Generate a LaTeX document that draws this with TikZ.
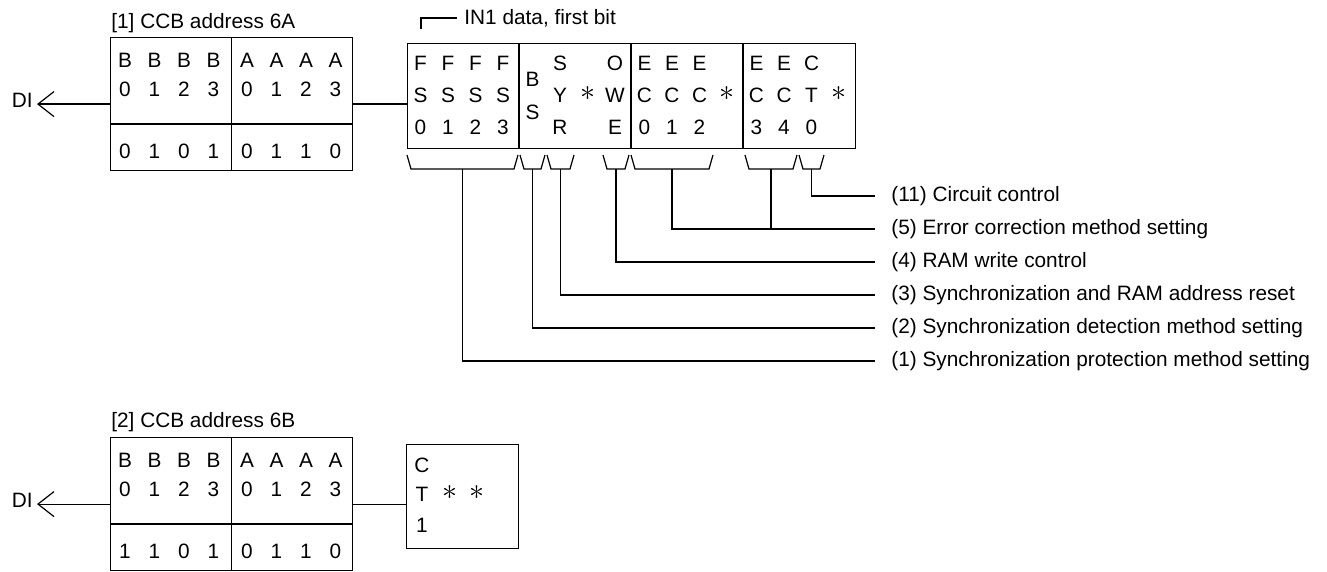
\documentclass[tikz,border=0pt]{standalone}
\usepackage{fontspec}
\setmainfont{Liberation Sans}
\usetikzlibrary{arrows.meta, positioning, calc}
\newcommand{\bitfont}{\fontsize{10.4}{12.5}\selectfont}
\newcommand{\bitast}{\raisebox{0.1em}{\scalebox{1.5}{$\ast$}}}
\tikzset{
  regbox/.style={rectangle, draw, line width=0.6pt, inner sep=0pt, anchor=north west},
  bit/.style={inner sep=0pt, text height=0.72em, text depth=0pt, font=\bitfont},
  lbl/.style={anchor=west, inner xsep=8pt, inner ysep=0pt, font=\bitfont},
  ttl/.style={anchor=base west, inner sep=0pt, font=\bitfont},
  wire/.style={line width=0.6pt},
  brk/.style={line width=0.6pt},
  diarrow/.style={-{Straight Barb[length=8pt,width=12.5pt]}, line width=0.6pt}
}
\begin{document}
\begin{tikzpicture}[x=0.5pt, y=-0.5pt]
  \useasboundingbox (0,0) rectangle (1327,572);

  % CCB address boxes
  \node[ttl] (t1) at (111,28.5) {[1] CCB address 6A};
  \node[ttl] (t2) at (111,427.5) {[2] CCB address 6B};
  \foreach \n/\ty/\vals in {1/37/{0,1,0,1,0,1,1,0}, 2/437/{1,1,0,1,0,1,1,0}} {
    \node[regbox, minimum width=121pt, minimum height=66.5pt] (adr\n) at (110,\ty) {};
    \draw[wire] (adr\n.north) -- (adr\n.south);
    \draw[wire] ($(adr\n.north west)+(0,87)$) -- ($(adr\n.north east)+(0,87)$);
    \foreach \v [count=\k from 0, evaluate=\k as \bx using {125+122*int(\k/4)+29.5*mod(\k,4)},
                 evaluate=\k as \j using {int(mod(\k,4))}] in \vals {
      \node[bit] (adr\n a\k) at (\bx,\ty+23) {\ifnum\k<4 B\else A\fi};
      \node[bit] (adr\n b\k) at (\bx,\ty+52) {\j};
      \node[bit] (adr\n c\k) at (\bx,\ty+114) {\v};
    }
  }

  % DI inputs
  \node[lbl, anchor=east, inner xsep=2pt] (di1) at (37,100) {DI};
  \node[lbl, anchor=east, inner xsep=2pt] (di2) at (37,500) {DI};
  \draw[diarrow] (adr1.west) -- (adr1.west -| di1.east);
  \draw[diarrow] (adr2.west) -- (adr2.west -| di2.east);

  % IN1 data
  \node[regbox, minimum width=224pt, minimum height=52.5pt] (in1) at (407,43) {};
  \foreach \s in {1,2,3}
    \draw[wire] ($(in1.north west)+(112*\s,0)$) -- ($(in1.south west)+(112*\s,0)$);
  \draw[wire] (adr1.east) -- (adr1.east -| in1.west);
  \foreach \x/\ta/\tb/\tc [count=\k] in {420.5/F/S/0, 448/F/S/1, 475.5/F/S/2, 503/F/S/3,
      560/S/Y/R, 587.5/{}/\bitast/{}, 615/O/W/E,
      644.5/E/C/0, 672/E/C/1, 699.5/E/C/2, 727/{}/\bitast/{},
      756.5/E/C/3, 784/E/C/4, 811.5/C/T/0, 839/{}/\bitast/{}} {
    \node[bit] (da\k) at (\x,63) {\ta};
    \node[bit] (db\k) at (\x,95) {\tb};
    \node[bit] (dc\k) at (\x,127) {\tc};
  }
  \node[bit] (bsb) at (532.5,79) {B};
  \node[bit] (bss) at (532.5,112) {S};

  % first bit marker
  \coordinate (fb) at (421,29);
  \node[lbl, inner xsep=3.5pt] (fbl) at (457,18) {IN1 data, first bit};
  \draw[wire] (fb) |- (fbl.west);

  % brackets under the bits
  \foreach \a/\b/\n in {407/518/1, 520/545/2, 547/574/3, 603/629/4, 631/713/5, 745/797/6, 799/824/7} {
    \draw[brk] (\a,155) -- (\a+4,169) -- (\b-4,169) -- (\b,155);
    \coordinate (br\n) at ({(\a+\b)/2},169);
  }

  % function labels
  \node[lbl] (l11) at (875,196) {(11) Circuit control};
  \node[lbl] (l5) at (875,229) {(5) Error correction method setting};
  \node[lbl] (l4) at (875,262) {(4) RAM write control};
  \node[lbl] (l3) at (875,295) {(3) Synchronization and RAM address reset};
  \node[lbl] (l2) at (875,328) {(2) Synchronization detection method setting};
  \node[lbl] (l1) at (875,361) {(1) Synchronization protection method setting};
  \draw[wire] (br1) |- (l1.west);
  \draw[wire] (br2) |- (l2.west);
  \draw[wire] (br3) |- (l3.west);
  \draw[wire] (br4) |- (l4.west);
  \draw[wire] (br5) |- (l5.west);
  \draw[wire] (br6) -- (br6 |- l5.west);
  \draw[wire] (br7) |- (l11.west);

  % CT1 data
  \node[regbox, minimum width=56pt, minimum height=52pt] (ctl) at (406,444) {};
  \draw[wire] (adr2.east) -- (adr2.east -| ctl.west);
  \node[bit] (ctc) at (422,465) {C};
  \node[bit] (ctt) at (422,494) {T};
  \node[bit] (ct1) at (422,525) {1};
  \node[bit] (cta) at (449.5,494) {\bitast};
  \node[bit] (ctb) at (477,494) {\bitast};
\end{tikzpicture}
\end{document}
